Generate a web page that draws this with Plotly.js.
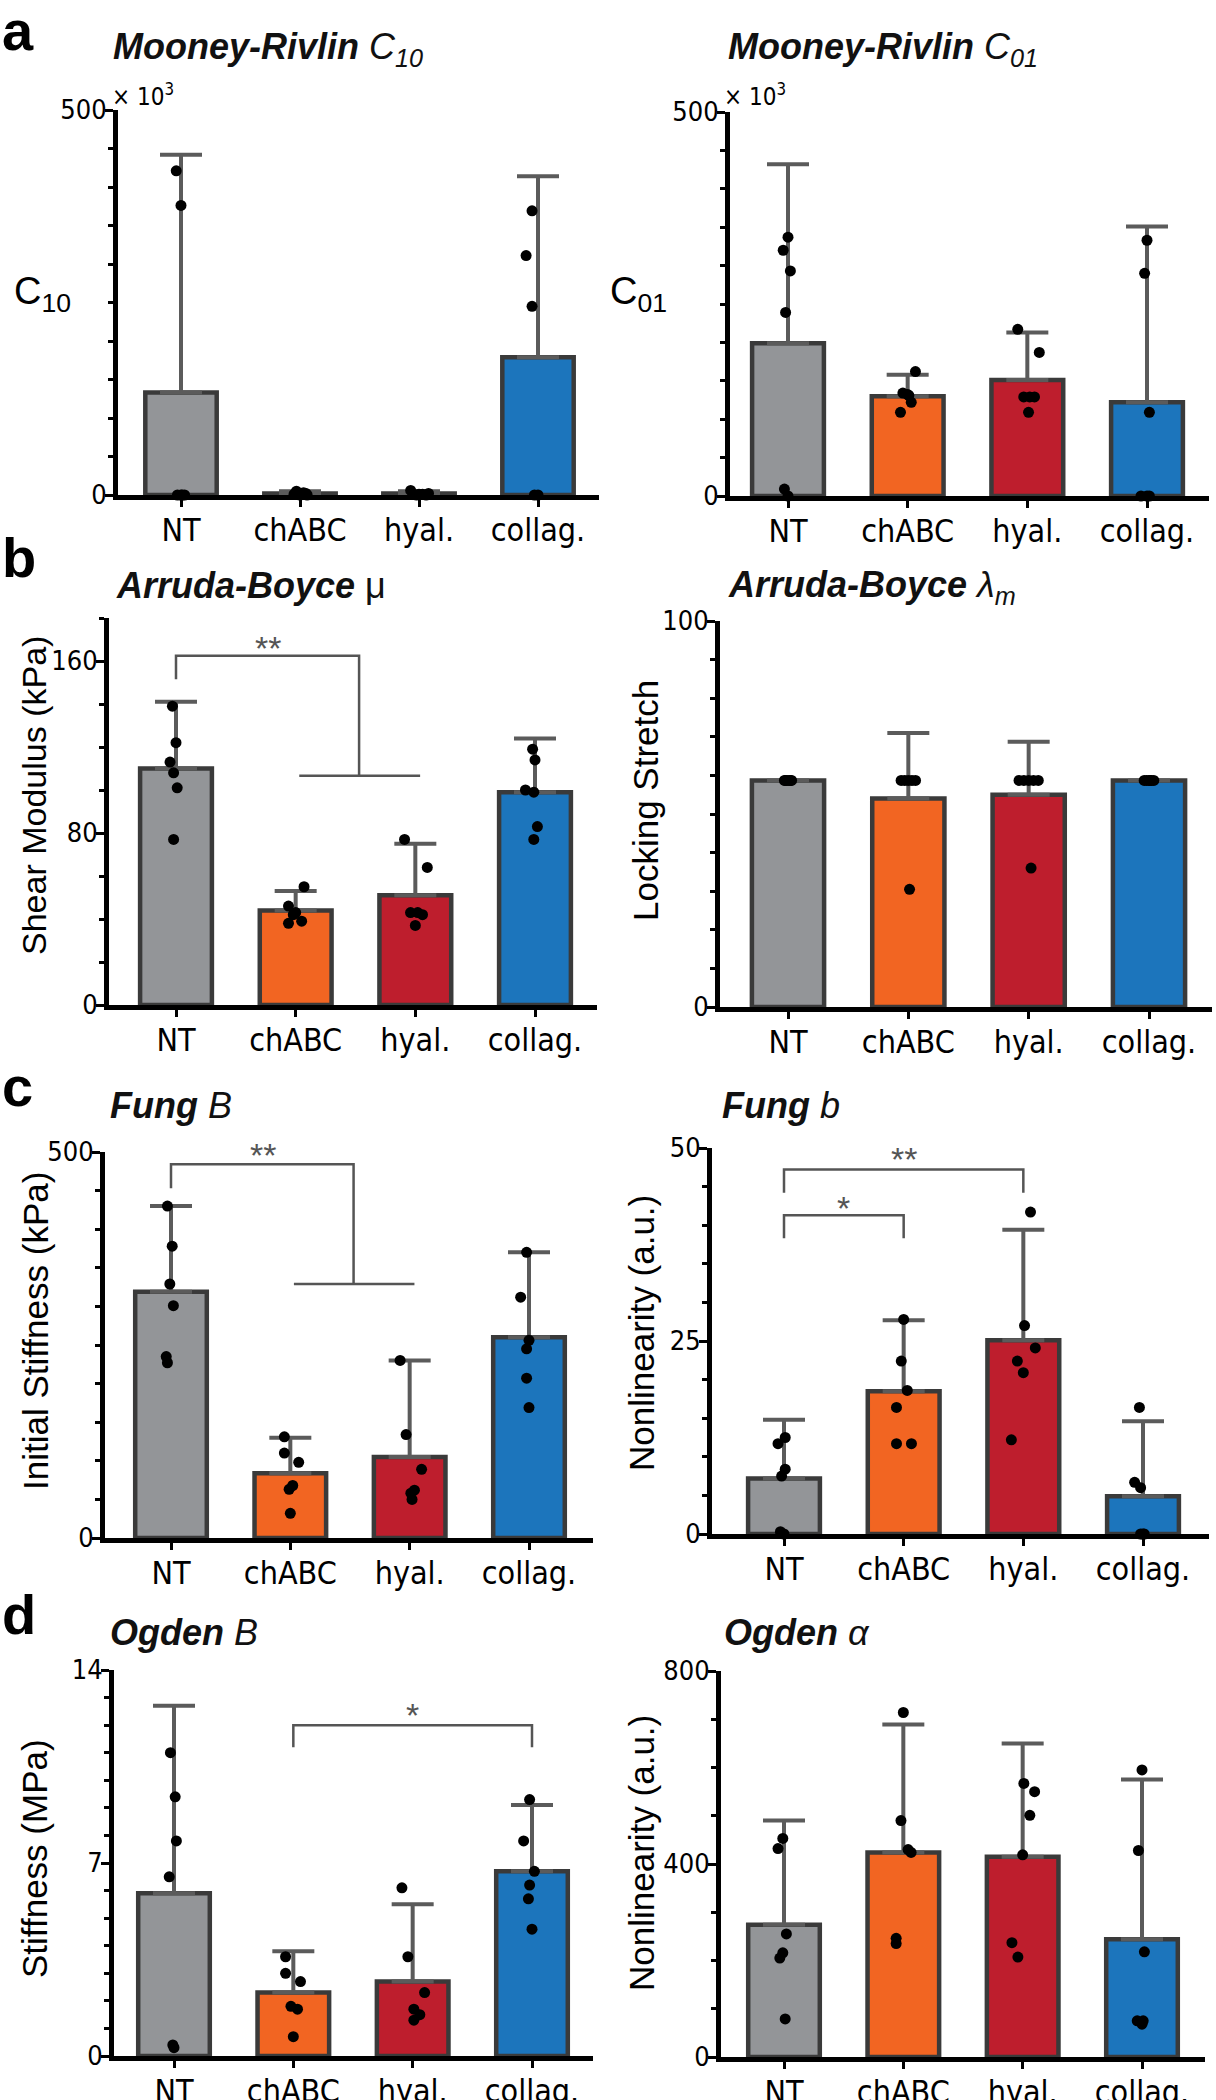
<!DOCTYPE html>
<html><head><meta charset="utf-8">
<script src="https://cdn.plot.ly/plotly-3.0.1.min.js"></script>
<style>html,body{margin:0;padding:0;background:#fff}#chart{width:1216px;height:2100px}</style>
</head><body><div id="chart"></div>
<script>
// ---------------- DATA ----------------
const categories = ['NT', 'chABC', 'hyal.', 'collag.'];

// a: Mooney-Rivlin C10 (x10^3)
const c10Mean = [133, 2, 2, 179];
const c10SD = [309, 3, 3, 235];
const c10Points = [[421, 376, 0, 0, 0, 0], [5, 2, 0, 1, 3, 0], [6, 1, 0, 2, 0, 1], [369, 311, 245, 0, 0]];
const c10Jitter = [[-0.04, 0, -0.03, 0.03, 0, 0.01], [-0.03, 0.05, 0, -0.05, 0.03, 0.06], [-0.07, 0.03, 0.06, 0.08, -0.02, 0], [-0.05, -0.1, -0.05, -0.03, 0]];

// a: Mooney-Rivlin C01 (x10^3)
const c01Mean = [199, 130, 151, 122];
const c01SD = [233, 28, 62, 229];
const c01Points = [[337, 320, 293, 239, 9, 0], [162, 134, 132, 122, 109, 131], [217, 187, 129, 129, 129, 109], [333, 290, 109, 0, 0, 0]];
const c01Jitter = [[0, -0.04, 0.02, -0.02, -0.03, 0], [0.065, -0.04, 0, 0.03, -0.06, 0.01], [-0.08, 0.1, -0.03, 0.02, 0.06, 0.01], [0, -0.02, 0.02, -0.05, 0.02, 0]];

// b: Arruda-Boyce mu (kPa)
const muMean = [110, 44, 51, 99];
const muSD = [31, 9, 24, 25];
const muPoints = [[139, 122, 113, 108, 101, 77], [55, 46, 43, 42, 39, 38], [77, 64, 43, 43, 42, 37], [119, 114, 100, 99, 83, 77]];
const muJitter = [[-0.03, 0, -0.05, -0.02, 0.01, -0.02], [0.07, -0.06, 0, -0.02, 0.05, -0.06], [-0.09, 0.1, -0.04, 0.02, 0.06, 0], [-0.02, 0, -0.08, -0.01, 0.02, -0.01]];

// b: Arruda-Boyce lambda_m
const lamMean = [58.7, 54, 55, 58.7];
const lamSD = [0, 17, 13.7, 0];
const lamPoints = [[58.7, 58.7, 58.7, 58.7, 58.7, 58.7], [58.7, 58.7, 58.7, 58.7, 58.7, 30.5], [58.7, 58.7, 58.7, 58.7, 58.7, 36], [58.7, 58.7, 58.7, 58.7, 58.7, 58.7]];
const lamJitter = [[-0.03, -0.02, -0.01, 0.01, 0.02, 0.03], [-0.06, -0.03, 0, 0.03, 0.06, 0.01], [-0.08, -0.04, 0, 0.04, 0.08, 0.02], [-0.04, -0.02, 0, 0.01, 0.02, 0.04]];

// c: Fung B (kPa)
const fungBMean = [319, 84, 105, 260];
const fungBSD = [111, 46, 125, 110];
const fungBPoints = [[430, 378, 329, 301, 235, 227], [131, 110, 98, 68, 63, 32], [230, 134, 89, 62, 58, 50], [370, 312, 256, 245, 207, 169]];
const fungBJitter = [[-0.03, 0.01, -0.01, 0.02, -0.04, -0.03], [-0.05, -0.05, 0.07, 0.02, -0.01, 0], [-0.08, -0.03, 0.1, 0.04, 0.01, 0.02], [-0.02, -0.07, 0, -0.02, -0.02, 0]];

// c: Fung b (a.u.)
const fungbMean = [7.2, 18.5, 25.1, 4.9];
const fungbSD = [7.6, 9.2, 14.3, 9.7];
const fungbPoints = [[12.5, 11.7, 8.4, 7.5, 0.3, 0], [27.8, 22.4, 18.6, 16.4, 11.7, 11.7], [41.7, 27, 24.1, 22.4, 20.9, 12.2], [16.4, 6.7, 6.0, 0, 0, 0]];
const fungbJitter = [[0.01, -0.05, 0.01, -0.02, -0.03, 0], [0, -0.02, 0.03, -0.06, -0.06, 0.065], [0.06, 0.01, 0.1, -0.05, 0, -0.1], [-0.03, -0.07, -0.02, -0.02, 0.01, 0]];

// d: Ogden B (MPa)
const ogBMean = [5.9, 2.3, 2.7, 6.7];
const ogBSD = [6.8, 1.5, 2.8, 2.4];
const ogBPoints = [[11.0, 9.4, 7.8, 6.5, 0.4, 0.3], [3.6, 3.0, 2.7, 1.8, 1.7, 0.7], [6.1, 3.6, 2.3, 1.7, 1.5, 1.3], [9.3, 7.8, 6.7, 6.2, 5.7, 4.6]];
const ogBJitter = [[-0.03, 0.01, 0.02, -0.04, -0.01, 0], [-0.065, -0.065, 0.06, -0.02, 0.035, 0], [-0.09, -0.04, 0.1, 0.01, 0.06, 0.01], [-0.02, -0.07, 0.02, -0.02, -0.03, 0]];

// d: Ogden alpha (a.u.)
const ogAMean = [274, 424, 415, 244];
const ogASD = [216, 265, 235, 331];
const ogAPoints = [[453, 432, 255, 216, 205, 79], [714, 490, 430, 424, 246, 235], [567, 550, 501, 419, 237, 207], [595, 428, 218, 75, 68, 75]];
const ogAJitter = [[-0.01, -0.05, 0.02, -0.01, -0.035, 0.01], [0, -0.02, 0.04, 0.065, -0.06, -0.06], [0.01, 0.1, 0.06, 0, -0.09, -0.04], [0, -0.03, 0.02, -0.04, 0, 0.01]];

// ---------------- STYLE / LAYOUT ----------------
const W = 1216, H = 2100;
const px = x => x / W;
const py = y => 1 - y / H;
const barColors = ['#939598', '#F26522', '#BE1E2D', '#1C75BC'];
const narrow = '"Liberation Sans Narrow", "DejaVu Sans Condensed", "Liberation Sans", sans-serif';
const sans = '"Liberation Sans", Arial, sans-serif';

const panels = [
  {mean: c10Mean, sd: c10SD, pts: c10Points, jit: c10Jitter, axisX: 118, c0: 181, c3: 538, xEnd: 599, yTop: 110, yZero: 495, range: [0, 500], tickvals: [0, 500], minor: 50},
  {mean: c01Mean, sd: c01SD, pts: c01Points, jit: c01Jitter, axisX: 730, c0: 788, c3: 1147, xEnd: 1209, yTop: 112, yZero: 496, range: [0, 500], tickvals: [0, 500], minor: 50},
  {mean: muMean, sd: muSD, pts: muPoints, jit: muJitter, axisX: 109, c0: 176, c3: 535, xEnd: 597, yTop: 618, yZero: 1005, range: [0, 180], tickvals: [0, 80, 160], minor: 20},
  {mean: lamMean, sd: lamSD, pts: lamPoints, jit: lamJitter, axisX: 720, c0: 788, c3: 1149, xEnd: 1212, yTop: 621, yZero: 1007, range: [0, 100], tickvals: [0, 100], minor: 10},
  {mean: fungBMean, sd: fungBSD, pts: fungBPoints, jit: fungBJitter, axisX: 105, c0: 171, c3: 529, xEnd: 593, yTop: 1152, yZero: 1538, range: [0, 500], tickvals: [0, 500], minor: 50},
  {mean: fungbMean, sd: fungbSD, pts: fungbPoints, jit: fungbJitter, axisX: 712, c0: 784, c3: 1143, xEnd: 1209, yTop: 1148, yZero: 1534, range: [0, 50], tickvals: [0, 25, 50], minor: 5},
  {mean: ogBMean, sd: ogBSD, pts: ogBPoints, jit: ogBJitter, axisX: 114, c0: 174, c3: 532, xEnd: 593, yTop: 1670, yZero: 2056, range: [0, 14], tickvals: [0, 7, 14], minor: 1},
  {mean: ogAMean, sd: ogASD, pts: ogAPoints, jit: ogAJitter, axisX: 721, c0: 784, c3: 1142, xEnd: 1205, yTop: 1671, yZero: 2057, range: [0, 800], tickvals: [0, 400, 800], minor: 100}
];

const traces = [];
const layout = {
  width: W, height: H, margin: {l: 0, r: 0, t: 0, b: 0},
  paper_bgcolor: '#fff', plot_bgcolor: 'rgba(0,0,0,0)',
  showlegend: false, annotations: [], shapes: [],
  font: {family: sans, color: '#000'}
};

panels.forEach((p, i) => {
  const n = i + 1;
  const xa = n === 1 ? 'x' : 'x' + n;
  const ya = n === 1 ? 'y' : 'y' + n;
  const xs = [0, 1, 2, 3];
  traces.push({
    type: 'bar', x: xs, y: p.mean, xaxis: xa, yaxis: ya, width: 0.6,
    marker: {color: barColors, line: {color: '#3a3a3a', width: 4.5}},
    error_y: {type: 'data', symmetric: false, array: p.sd, arrayminus: p.sd.map(() => 0),
      color: '#5b5b5b', thickness: 4, width: 21},
    hoverinfo: 'skip'
  });
  const xp = [], yp = [];
  p.pts.forEach((vals, g) => vals.forEach((v, k) => { xp.push(g + p.jit[g][k]); yp.push(v); }));
  traces.push({
    type: 'scatter', mode: 'markers', x: xp, y: yp, xaxis: xa, yaxis: ya,
    marker: {color: '#000', size: 11}, cliponaxis: false, hoverinfo: 'skip'
  });
  const sp = (p.c3 - p.c0) / 3;
  const xKey = n === 1 ? 'xaxis' : 'xaxis' + n;
  const yKey = n === 1 ? 'yaxis' : 'yaxis' + n;
  layout[xKey] = {
    domain: [px(p.axisX), px(p.xEnd)], anchor: ya,
    range: [-(p.c0 - p.axisX) / sp, 3 + (p.xEnd - p.c3) / sp],
    tickmode: 'array', tickvals: xs, ticktext: categories,
    showline: true, linewidth: 5, linecolor: '#000',
    ticks: 'outside', ticklen: 7, tickwidth: 3, tickcolor: '#000',
    showgrid: false, zeroline: false, fixedrange: true, ticklabelstandoff: -4,
    tickfont: {family: narrow, size: 32, color: '#000'}
  };
  layout[yKey] = {
    domain: [py(p.yZero), py(p.yTop)], anchor: xa, range: p.range,
    tickmode: 'array', tickvals: p.tickvals,
    showline: true, linewidth: 5, linecolor: '#000',
    ticks: 'outside', ticklen: 8, tickwidth: 3, tickcolor: '#000',
    minor: {tick0: 0, dtick: p.minor, ticks: 'outside', ticklen: 5, tickwidth: 3, tickcolor: '#000', showgrid: false},
    showgrid: false, zeroline: false, fixedrange: true, ticklabelstandoff: -7,
    tickfont: {family: narrow, size: 27, color: '#000'}
  };
});

// Panel letters
[['a', 31], ['b', 557], ['c', 1086], ['d', 1614]].forEach(([t, y]) => {
  layout.annotations.push({text: '<b>' + t + '</b>', xref: 'paper', yref: 'paper', x: px(0), y: py(y),
    xanchor: 'left', yanchor: 'middle', showarrow: false, font: {family: sans, size: 56, color: '#000'}});
});

// Titles
const titles = [
  ['<b><i>Mooney-Rivlin</i></b><i> C<sub>10</sub></i>', 111, 49],
  ['<b><i>Mooney-Rivlin</i></b><i> C<sub>01</sub></i>', 726, 49],
  ['<b><i>Arruda-Boyce</i></b> μ', 114, 585],
  ['<b><i>Arruda-Boyce</i></b><i> λ<sub>m</sub></i>', 726, 587],
  ['<b><i>Fung</i></b><i> B</i>', 108, 1105],
  ['<b><i>Fung</i></b><i> b</i>', 720, 1105],
  ['<b><i>Ogden</i></b><i> B</i>', 108, 1632],
  ['<b><i>Ogden</i></b><i> α</i>', 722, 1632]
];
titles.forEach(([t, x, y]) => {
  layout.annotations.push({text: t, xref: 'paper', yref: 'paper', x: px(x), y: py(y),
    xanchor: 'left', yanchor: 'middle', showarrow: false, font: {family: sans, size: 36, color: '#111'}});
});

// y-axis titles
layout.annotations.push({text: 'C<sub>10</sub>', xref: 'paper', yref: 'paper', x: px(12), y: py(294),
  xanchor: 'left', yanchor: 'middle', showarrow: false, font: {family: sans, size: 38, color: '#000'}});
layout.annotations.push({text: 'C<sub>01</sub>', xref: 'paper', yref: 'paper', x: px(608), y: py(294),
  xanchor: 'left', yanchor: 'middle', showarrow: false, font: {family: sans, size: 38, color: '#000'}});
[['Shear Modulus (kPa)', 34, 796, 34], ['Locking Stretch', 645, 801, 35], ['Initial Stiffness (kPa)', 35, 1331, 35],
 ['Nonlinearity (a.u.)', 641, 1333, 35], ['Stiffness (MPa)', 34, 1859, 35], ['Nonlinearity (a.u.)', 641, 1853, 35]].forEach(([t, x, y, s]) => {
  layout.annotations.push({text: t, xref: 'paper', yref: 'paper', x: px(x), y: py(y), textangle: -90,
    xanchor: 'center', yanchor: 'middle', showarrow: false, font: {family: sans, size: s, color: '#000'}});
});

// x10^3 multipliers
[[110, 95], [722, 95]].forEach(([x, y]) => {
  layout.annotations.push({text: '× 10<sup>3</sup>', xref: 'paper', yref: 'paper', x: px(x), y: py(y),
    xanchor: 'left', yanchor: 'middle', showarrow: false, font: {family: narrow, size: 24, color: '#000'}});
});

// Significance brackets
const br = '#555';
function path(xr, yr, d) { layout.shapes.push({type: 'path', xref: xr, yref: yr, path: d, line: {color: br, width: 2.5}}); }
function star(xr, yr, x, y, t) {
  layout.annotations.push({text: t, xref: xr, yref: yr, x: x, y: y, xanchor: 'center', yanchor: 'middle',
    showarrow: false, font: {family: sans, size: 34, color: br}});
}
// b mu
path('x3', 'y3', 'M0,151.5 L0,162.4 L1.53,162.4 L1.53,106.6');
path('x3', 'y3', 'M1.03,106.6 L2.04,106.6');
star('x3', 'y3', 0.77, 166, '**');
// c Fung B
path('x5', 'y5', 'M0,453 L0,484 L1.53,484 L1.53,329');
path('x5', 'y5', 'M1.03,329 L2.04,329');
star('x5', 'y5', 0.77, 496, '**');
// c Fung b
path('x6', 'y6', 'M0,38.3 L0,41.3 L1,41.3 L1,38.3');
path('x6', 'y6', 'M0,44.2 L0,47.2 L2,47.2 L2,44.2');
star('x6', 'y6', 0.5, 42.2, '*');
star('x6', 'y6', 1.0, 48.6, '**');
// d Ogden B
path('x7', 'y7', 'M1,11.2 L1,12.0 L3,12.0 L3,11.2');
star('x7', 'y7', 2, 12.35, '*');

Plotly.newPlot('chart', traces, layout, {displayModeBar: false, staticPlot: true});
</script>
</body></html>
